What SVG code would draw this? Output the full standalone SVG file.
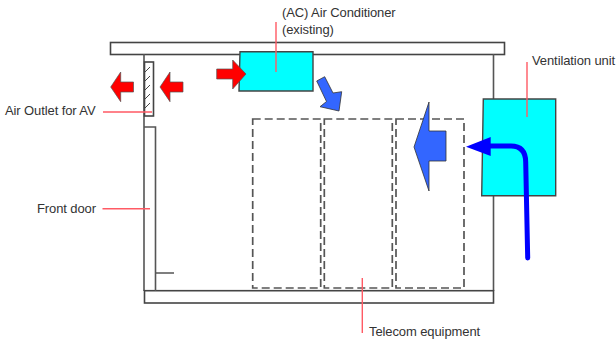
<svg xmlns="http://www.w3.org/2000/svg" width="616" height="342" viewBox="0 0 616 342">
<style>
text{font-family:"Liberation Sans",Arial,sans-serif;font-size:13px;fill:#333;letter-spacing:-.1px}
.w{fill:#fff;stroke:#444;stroke-width:1.6}
.l{fill:none;stroke:#555;stroke-width:1.6}
.d{fill:none;stroke:#555;stroke-width:1.7;stroke-dasharray:8 4}
.c{fill:#0ff;stroke:#444;stroke-width:1.4}
.r{fill:#f00;stroke:#555;stroke-width:.7}
.b{fill:#36f;stroke:#333;stroke-width:.8}
.lead{fill:none;stroke:#ff5a64;stroke-width:1.4}
</style>
<g id="telecom-equipment">
<rect class="d" x="252.700" y="119" width="68" height="169"/>
<rect class="d" x="324.300" y="119" width="68" height="169"/>
<rect class="d" x="396" y="119" width="68" height="169"/>
</g>
<g id="building">
<rect class="w" x="110.500" y="42.500" width="394" height="12"/>
<path class="l" d="M144 54V291M493.500 54V291"/>
<rect class="w" x="144.500" y="290.700" width="349" height="12.300"/>
</g>
<g id="air-outlet">
<rect class="w" x="144.500" y="62" width="9" height="54"/>
<path d="M145 72l5-5M145 81l5-5M145 90l5-5M145 99l5-5M145 108l5-5" fill="none" stroke="#444" stroke-width="1"/>
</g>
<g id="front-door">
<path class="l" d="M144 127H155.500V291M155.500 273H174"/>
</g>
<g id="air-conditioner">
<path class="c" d="M240 51.700H313V91H239Z"/>
</g>
<g id="ventilation-unit">
<path class="c" d="M483.300 99H555.700V195.700H481.700Z"/>
</g>
<g id="connectors">
<path class="lead" d="M276 22V72M527 62V117M362.300 278V333M103 112H152M102.500 208.700H150"/>
<path class="r" d="M133.500 82H120.700V72L110.700 87L120.700 101.700V92H133.500Z"/>
<path class="r" d="M183 82H170V72L160 87L170 101.700V92H183Z"/>
<path class="r" d="M216.700 69H232.700V60L246 74L232.700 89V79H216.700Z"/>
<path class="b" d="M316.700 81L324.700 76.700L333 93L341.700 91.700L339 111L320 106.700L326.500 101.500Z"/>
<path class="b" d="M446 131H429V102L414 147L429 191V161H446Z"/>
<path d="M527.700 258L525.700 162Q525.500 146 511 146H489" fill="none" stroke="#00f" stroke-width="5" stroke-linecap="round"/>
<path d="M466 146.700L490.700 137V156Z" fill="#00f"/>
</g>
<text x="282" y="17">(AC) Air Conditioner</text>
<text x="282" y="34">(existing)</text>
<text x="532" y="65">Ventilation unit</text>
<text x="5" y="115">Air Outlet for AV</text>
<text x="37" y="213">Front door</text>
<text x="369" y="336">Telecom equipment</text>
</svg>
